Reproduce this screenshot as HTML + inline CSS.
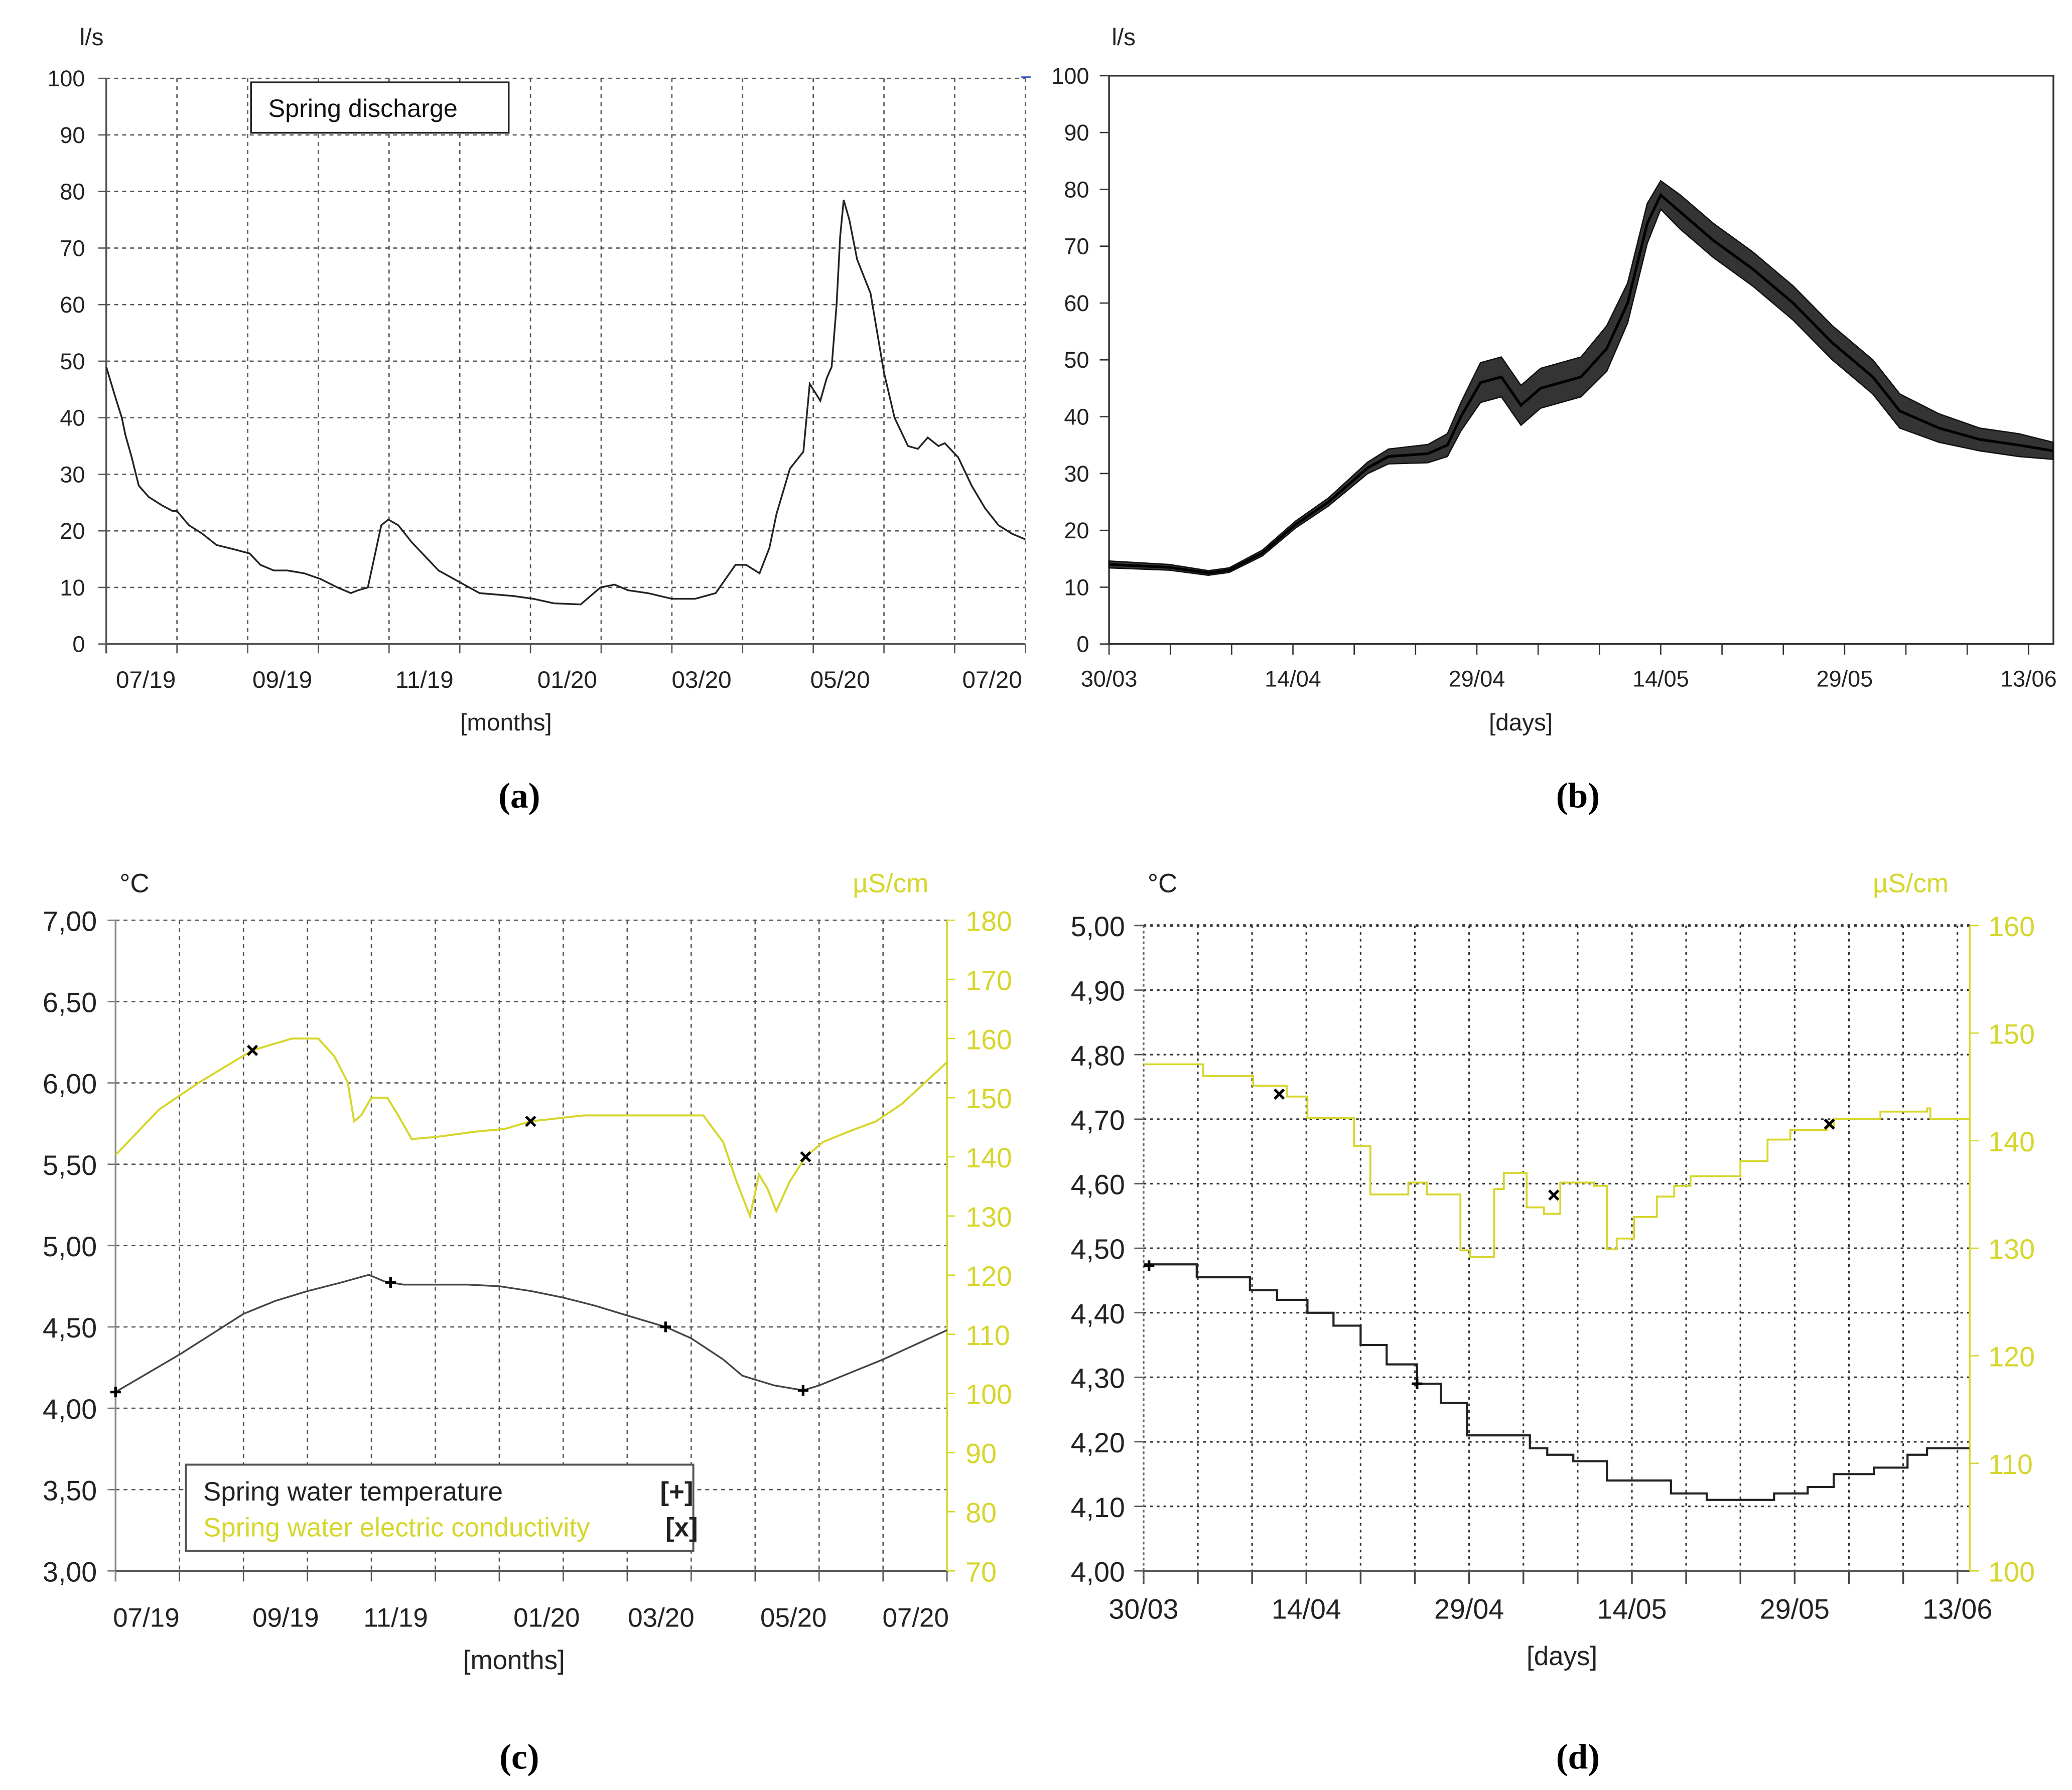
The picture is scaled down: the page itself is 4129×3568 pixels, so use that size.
<!DOCTYPE html>
<html><head><meta charset="utf-8"><style>
html,body{margin:0;padding:0;background:#fff;}
svg{display:block;font-family:"Liberation Sans",sans-serif;}
</style></head>
<body>
<svg id="chart" xmlns="http://www.w3.org/2000/svg" width="4129" height="3568" viewBox="0 0 1560 1348" preserveAspectRatio="none">
<rect x="0" y="0" width="1560" height="1348" fill="#fff"/>
</svg>
<script>
// ---------- Panel (a) data ----------
const aMonths = [0,.12,.22,.27,.36,.46,.6,.79,.94,1.0,1.17,1.36,1.56,1.79,2.03,2.18,2.37,2.56,2.8,3.03,3.27,3.46,3.56,3.7,3.89,3.99,4.13,4.32,4.51,4.7,4.99,5.28,5.75,6.04,6.33,6.71,6.99,7.19,7.38,7.66,8.0,8.33,8.62,8.9,9.05,9.24,9.38,9.48,9.67,9.86,9.95,10.05,10.1,10.19,10.26,10.33,10.38,10.43,10.51,10.62,10.81,11.0,11.15,11.34,11.48,11.62,11.77,11.86,12.05,12.24,12.43,12.62,12.81,13];
const aFlow = [49,44,40,37,33,28,26,24.5,23.5,23.5,21,19.5,17.5,16.8,16,14,13,13,12.5,11.5,10,9,9.5,10,21,22,21,18,15.5,13,11,9,8.5,8,7.2,7,10,10.5,9.5,9,8,8,9,14,14,12.5,17,23,31,34,46,44,43,47,49,60,72,78.5,75,68,62,48,40,35,34.5,36.5,35,35.5,33,28,24,21,19.5,18.5];
const aYTicks = [0,10,20,30,40,50,60,70,80,90,100];
const aXLabels = ['07/19','09/19','11/19','01/20','03/20','05/20','07/20'];
const aXLabelMonths = [0.56,2.49,4.5,6.52,8.42,10.38,12.53];

// ---------- Panel (b) data ----------
const bDays = [0,4.9,8.1,9.8,12.5,15.2,17.9,21.1,22.8,26,27.6,28.7,30.3,32,33.6,35.2,38.5,40.6,42.3,43.9,45,46.6,49.3,52.5,55.8,59,62.3,64.5,67.7,71,74.2,77];
const bFlow = [14,13.5,12.5,13,16,21,25,31,33,33.5,35,40,46,47,42,45,47,52,60,74,79,76,71,66,60,53,47,41,38,36,35,34];
const bSpread = [0.6,0.5,0.4,0.4,0.5,0.6,0.7,1.0,1.3,1.6,2,2.5,3.5,3.5,3.5,3.5,3.5,4,3.5,3.5,2.5,3,3,3,3,3,3,3,2.5,2,2,1.5];
const bYTicks = [0,10,20,30,40,50,60,70,80,90,100];
const bXLabels = ['30/03','14/04','29/04','14/05','29/05','13/06'];

// ---------- Panel (c) data ----------
const cTempMonths = [0,1,2,2.5,3,3.5,3.96,4.2,4.5,5,5.5,6,6.5,7,7.5,8,8.6,9,9.5,9.8,10.3,10.75,11,11.5,12,12.5,13];
const cTemp = [4.1,4.33,4.58,4.66,4.72,4.77,4.82,4.78,4.76,4.76,4.76,4.75,4.72,4.68,4.63,4.57,4.5,4.43,4.3,4.2,4.14,4.11,4.14,4.22,4.3,4.39,4.48];
const cCondMonths = [0,.68,1.31,2.14,2.76,3.17,3.42,3.63,3.73,3.84,4.0,4.25,4.42,4.63,5.04,5.66,6.08,6.49,7.32,8.57,9.19,9.5,9.71,9.92,10.06,10.19,10.33,10.54,10.79,11.06,11.47,11.89,12.3,13];
const cCond = [140.3,148,152.6,158,160,160,157,152.6,146,147,150,150,147,143,143.4,144.3,144.7,146,147,147,147,142.5,135.8,130,137,134.7,130.8,135.8,140,142.5,144.3,146,149,156];
const cTempMarks = [0,4.3,8.6,10.75];
const cCondMarks = [2.14,6.49,10.79];
const cLeftTicks = ['7,00','6,50','6,00','5,50','5,00','4,50','4,00','3,50','3,00'];
const cLeftVals = [7,6.5,6,5.5,5,4.5,4,3.5,3];
const cRightVals = [180,170,160,150,140,130,120,110,100,90,80,70];
const cXLabels = ['07/19','09/19','11/19','01/20','03/20','05/20','07/20'];
const cXLabelMonths = [0.48,2.66,4.38,6.74,8.53,10.6,12.51];

// ---------- Panel (d) data ----------
const dTempDays = [0,4.9,9.8,12.3,15.1,17.5,20,22.4,25.2,27.4,29.8,34.7,35.6,37.2,39.6,42.7,47,48.6,51.9,55.9,58.1,61.2,63.6,67.3,70.4,72.2,76.1];
const dTemp = [4.475,4.455,4.435,4.42,4.40,4.38,4.35,4.32,4.29,4.26,4.21,4.21,4.19,4.18,4.17,4.14,4.14,4.12,4.11,4.11,4.12,4.13,4.15,4.16,4.18,4.19,4.19];
const dCondDays = [0,4.9,5.5,9.8,10.1,13.2,15.1,19.4,20.9,24.3,24.4,25.8,26.1,27.7,29.2,30.1,32.3,33.2,34.7,35.3,36.9,38.4,41.5,42.7,43.6,45.2,47.3,48.9,50.4,55,57.5,59.6,63,63.6,67.9,72.2,72.5,76.1];
const dCond = [147.1,147.1,146,146,145.1,144.1,142.1,139.5,135,135,136.1,136.1,135,135,129.8,129.2,135.5,137,137,133.8,133.2,136.1,135.8,129.9,130.9,132.9,134.8,135.8,136.7,138.1,140.1,141,141.3,142,142.7,143,142,142];
const dTempMarks = [0.5,25.2];
const dCondMarks = [12.5,37.8,63.2];
const dLeftVals = [5,4.9,4.8,4.7,4.6,4.5,4.4,4.3,4.2,4.1,4.0];
const dRightVals = [160,150,140,130,120,110,100];
const dXLabels = ['30/03','14/04','29/04','14/05','29/05','13/06'];

const NS = 'http://www.w3.org/2000/svg';
const svg = document.getElementById('chart');
const YEL = '#d6d62c';
function mk(tag, attrs, parent) {
  const e = document.createElementNS(NS, tag);
  for (const k in attrs) e.setAttribute(k, attrs[k]);
  (parent || svg).appendChild(e);
  return e;
}
function txt(x, y, s, size, anchor, fill, parent, family) {
  const t = mk('text', {x: x, y: y, 'font-size': size, 'text-anchor': anchor || 'start', fill: fill || '#222'}, parent);
  if (family) t.setAttribute('font-family', family);
  t.textContent = s;
  return t;
}
function group(name) {
  const g = mk('g', {});
  
  
  return g;
}
function pathFrom(xs, ys, fx, fy, step) {
  let d = '';
  for (let i = 0; i < xs.length; i++) {
    const X = fx(xs[i]), Y = fy(ys[i]);
    if (i === 0) d += 'M' + X.toFixed(2) + ' ' + Y.toFixed(2);
    else if (step) d += 'H' + X.toFixed(2) + 'V' + Y.toFixed(2);
    else d += 'L' + X.toFixed(2) + ' ' + Y.toFixed(2);
  }
  return d;
}
function interp(xs, ys, x) {
  for (let i = 0; i < xs.length - 1; i++) if (x >= xs[i] && x <= xs[i + 1]) {
    const t = (x - xs[i]) / (xs[i + 1] - xs[i]); return ys[i] + t * (ys[i + 1] - ys[i]);
  }
  return ys[ys.length - 1];
}
function plus(x, y, g) {
  const p = mk('path', {d: `M${x-4} ${y}H${x+4}M${x} ${y-4}V${y+4}`, stroke: '#000', 'stroke-width': 2}, g);
  
  
}
function cross(x, y, g) {
  const p = mk('path', {d: `M${x-3.5} ${y-3.5}L${x+3.5} ${y+3.5}M${x+3.5} ${y-3.5}L${x-3.5} ${y+3.5}`, stroke: '#000', 'stroke-width': 2}, g);
  
  
}

// ================= Panel (a) =================
(function () {
  const g = group('panel-a');
  const L = 80, R = 772, T = 59, B = 485;
  const xA = m => L + m * (R - L) / 13;
  const yA = v => B - v * (B - T) / 100;
  aYTicks.forEach(v => {
    if (v > 0) {
      const l = mk('line', {x1: L, x2: R, y1: yA(v), y2: yA(v), stroke: '#555', 'stroke-width': 1, 'stroke-dasharray': '3 3'}, g);
      
      
    }
    mk('line', {x1: L - 6, x2: L, y1: yA(v), y2: yA(v), stroke: '#555'}, g);
    const t = txt(64, yA(v) + 6, String(v), 17, 'end', '#222', g);
    
    
  });
  for (let m = 1; m <= 13; m++) {
    const l = mk('line', {x1: xA(m), x2: xA(m), y1: T, y2: B, stroke: '#555', 'stroke-width': 1, 'stroke-dasharray': '3 3'}, g);
    
    
  }
  for (let m = 0; m <= 13; m++) mk('line', {x1: xA(m), x2: xA(m), y1: B, y2: B + 7, stroke: '#555'}, g);
  mk('line', {x1: L, x2: L, y1: T, y2: B + 7, stroke: '#555', 'stroke-width': 1.3}, g);
  mk('line', {x1: L, x2: R, y1: B, y2: B, stroke: '#555', 'stroke-width': 1.3}, g);
  mk('line', {x1: R - 3, x2: R + 4, y1: T - 1, y2: T - 1, stroke: '#2244cc', 'stroke-width': 1}, g);
  aXLabels.forEach((s, i) => {
    const t = txt(xA(aXLabelMonths[i]), 518, s, 18, 'middle', '#222', g);
    
    
  });
  const line = mk('path', {d: pathFrom(aMonths, aFlow, xA, yA), fill: 'none', stroke: '#222', 'stroke-width': 1.3}, g);
  
  
  const lu = txt(60, 34, 'l/s', 18, 'start', '#222', g);
  
  
  const xt = txt(381, 550, '[months]', 18, 'middle', '#222', g);
  
  
  const lb = mk('rect', {x: 189, y: 62, width: 194, height: 38, fill: '#fff', stroke: '#222', 'stroke-width': 1.3}, g);
  
  
  const lt = txt(202, 88, 'Spring discharge', 19, 'start', '#111', g);
  
  
  const pl = txt(391, 608, '(a)', 27, 'middle', '#000', g, '"Liberation Serif",serif');
  
  
  pl.setAttribute('font-weight', 'bold');
})();

// ================= Panel (b) =================
(function () {
  const g = group('panel-b');
  const L = 835, R = 1546, T = 57, B = 485;
  const xB = d => L + d * 9.23;
  const yB = v => B - v * (B - T) / 100;
  const fr = mk('rect', {x: L, y: T, width: R - L, height: B - T, fill: 'none', stroke: '#333', 'stroke-width': 1.3}, g);
  
  
  bYTicks.forEach(v => {
    mk('line', {x1: L - 7, x2: L, y1: yB(v), y2: yB(v), stroke: '#333'}, g);
    const t = txt(820, yB(v) + 6, String(v), 17, 'end', '#222', g);
    
    
  });
  for (let d = 0; d <= 77; d += 5) mk('line', {x1: xB(d), x2: xB(d), y1: B, y2: B + 8, stroke: '#333'}, g);
  bXLabels.forEach((s, i) => {
    const t = txt(xB(i * 15), 517, s, 17, 'middle', '#222', g);
    
    
  });
  const up = bFlow.map((v, i) => v + bSpread[i]);
  const lo = bFlow.map((v, i) => v - bSpread[i]);
  let d = pathFrom(bDays, up, xB, yB);
  for (let i = bDays.length - 1; i >= 0; i--) d += 'L' + xB(bDays[i]).toFixed(2) + ' ' + yB(lo[i]).toFixed(2);
  d += 'Z';
  const band = mk('path', {d: d, fill: '#111', 'fill-opacity': 0.85, stroke: '#111', 'stroke-width': 1}, g);
  
  
  const line = mk('path', {d: pathFrom(bDays, bFlow, xB, yB), fill: 'none', stroke: '#000', 'stroke-width': 2}, g);
  
  
  const lu = txt(837, 34, 'l/s', 18, 'start', '#222', g);
  
  
  const xt = txt(1145, 550, '[days]', 18, 'middle', '#222', g);
  
  
  const pl = txt(1188, 608, '(b)', 27, 'middle', '#000', g, '"Liberation Serif",serif');
  
  
  pl.setAttribute('font-weight', 'bold');
})();

// ================= Panel (c) =================
(function () {
  const g = group('panel-c');
  const L = 87, R = 713, T = 693, B = 1183;
  const xC = m => L + m * (R - L) / 13;
  const yT = t => T + (7 - t) * (B - T) / 4;
  const yE = e => T + (180 - e) * (B - T) / 110;
  cLeftVals.forEach((v, i) => {
    if (i > 0 && i < cLeftVals.length - 1) {
      const l = mk('line', {x1: L, x2: R, y1: yT(v), y2: yT(v), stroke: '#555', 'stroke-dasharray': '3 3'}, g);
      
      
    }
    mk('line', {x1: L - 6, x2: L, y1: yT(v), y2: yT(v), stroke: '#777'}, g);
    const t = txt(73, yT(v) + 8, cLeftTicks[i], 21, 'end', '#222', g);
    
    
  });
  mk('line', {x1: L, x2: R, y1: T, y2: T, stroke: '#555', 'stroke-dasharray': '3 3'}, g);
  cRightVals.forEach(v => {
    mk('line', {x1: R, x2: R + 6, y1: yE(v), y2: yE(v), stroke: YEL}, g);
    const t = txt(727, yE(v) + 8, String(v), 21, 'start', YEL, g);
    
    
  });
  for (let m = 1; m < 13; m++) {
    const l = mk('line', {x1: xC(m), x2: xC(m), y1: T, y2: B, stroke: '#555', 'stroke-dasharray': '3 3'}, g);
    
    
  }
  for (let m = 0; m <= 13; m++) mk('line', {x1: xC(m), x2: xC(m), y1: B, y2: B + 8, stroke: '#555'}, g);
  mk('line', {x1: L, x2: L, y1: T, y2: B + 8, stroke: '#888', 'stroke-width': 1.3}, g);
  mk('line', {x1: L, x2: R, y1: B, y2: B, stroke: '#555', 'stroke-width': 1.3}, g);
  mk('line', {x1: R, x2: R, y1: T, y2: B, stroke: YEL, 'stroke-width': 1.3}, g);
  cXLabels.forEach((s, i) => {
    const t = txt(xC(cXLabelMonths[i]), 1225, s, 20, 'middle', '#222', g);
    
    
  });
  const ce = mk('path', {d: pathFrom(cCondMonths, cCond, xC, yE), fill: 'none', stroke: YEL, 'stroke-width': 1.5}, g);
  
  
  const ct = mk('path', {d: pathFrom(cTempMonths, cTemp, xC, yT), fill: 'none', stroke: '#444', 'stroke-width': 1.3}, g);
  
  
  cTempMarks.forEach(m => plus(xC(m), yT(interp(cTempMonths, cTemp, m)), g));
  cCondMarks.forEach(m => cross(xC(m), yE(interp(cCondMonths, cCond, m)), g));
  const u1 = txt(90, 672, '°C', 20, 'start', '#222', g);
  
  
  const u2 = txt(642, 672, 'µS/cm', 20, 'start', YEL, g);
  
  
  const xt = txt(387, 1257, '[months]', 20, 'middle', '#222', g);
  
  
  const lb = mk('rect', {x: 140, y: 1103, width: 382, height: 65, fill: '#fff', stroke: '#555', 'stroke-width': 1.5}, g);
  
  
  const l1 = txt(153, 1130, 'Spring water temperature', 20, 'start', '#222', g);
  
  
  const l1b = txt(497, 1130, '[+]', 20, 'start', '#222', g);
  
  
  l1b.setAttribute('font-weight', 'bold');
  const l2 = txt(153, 1157, 'Spring water electric conductivity', 20, 'start', YEL, g);
  
  
  const l2b = txt(501, 1157, '[x]', 20, 'start', '#222', g);
  
  
  l2b.setAttribute('font-weight', 'bold');
  const pl = txt(391, 1332, '(c)', 27, 'middle', '#000', g, '"Liberation Serif",serif');
  
  
  pl.setAttribute('font-weight', 'bold');
})();

// ================= Panel (d) =================
(function () {
  const g = group('panel-d');
  const L = 861, R = 1483, T = 697, B = 1183;
  const xD = d => L + d * 8.17;
  const yT = t => T + (5 - t) * (B - T);
  const yE = e => T + (160 - e) * (B - T) / 60;
  dLeftVals.forEach((v, i) => {
    if (i < dLeftVals.length - 1) {
      const l = mk('line', {x1: L, x2: R, y1: yT(v), y2: yT(v), stroke: '#333', 'stroke-width': i === 0 ? 2 : 1.2, 'stroke-dasharray': '2 3'}, g);
      
      
    }
    mk('line', {x1: L - 7, x2: L, y1: yT(v), y2: yT(v), stroke: '#555'}, g);
    const t = txt(847, yT(v) + 8, v.toFixed(2).replace('.', ','), 21, 'end', '#222', g);
    
    
  });
  dRightVals.forEach(v => {
    mk('line', {x1: R, x2: R + 7, y1: yE(v), y2: yE(v), stroke: YEL}, g);
    const t = txt(1497, yE(v) + 8, String(v), 21, 'start', YEL, g);
    
    
  });
  for (let d = 5; d <= 75; d += 5) {
    const l = mk('line', {x1: xD(d), x2: xD(d), y1: T, y2: B, stroke: '#333', 'stroke-width': 1.2, 'stroke-dasharray': '2 3'}, g);
    
    
  }
  for (let d = 0; d <= 75; d += 5) mk('line', {x1: xD(d), x2: xD(d), y1: B, y2: B + 10, stroke: '#444', 'stroke-width': 1.3}, g);
  mk('line', {x1: L, x2: L, y1: T, y2: B + 10, stroke: '#666', 'stroke-width': 1.3, 'stroke-dasharray': '2 2'}, g);
  mk('line', {x1: L, x2: R, y1: B, y2: B, stroke: '#555', 'stroke-width': 1.5}, g);
  mk('line', {x1: R, x2: R, y1: T, y2: B, stroke: YEL, 'stroke-width': 1.3}, g);
  dXLabels.forEach((s, i) => {
    const t = txt(xD(i * 15), 1219, s, 21, 'middle', '#222', g);
    
    
  });
  const de = mk('path', {d: pathFrom(dCondDays, dCond, xD, yE, true), fill: 'none', stroke: YEL, 'stroke-width': 1.4}, g);
  
  
  const dt = mk('path', {d: pathFrom(dTempDays, dTemp, xD, yT, true), fill: 'none', stroke: '#222', 'stroke-width': 1.6}, g);
  
  
  dTempMarks.forEach(d => plus(xD(d), yT(interp(dTempDays, dTemp, d)), g));
  dCondMarks.forEach(d => cross(xD(d), yE(interp(dCondDays, dCond, d)), g));
  const u1 = txt(864, 672, '°C', 20, 'start', '#222', g);
  
  
  const u2 = txt(1410, 672, 'µS/cm', 20, 'start', YEL, g);
  
  
  const xt = txt(1176, 1254, '[days]', 20, 'middle', '#222', g);
  
  
  const pl = txt(1188, 1332, '(d)', 27, 'middle', '#000', g, '"Liberation Serif",serif');
  
  
  pl.setAttribute('font-weight', 'bold');
})();
</script>
</body></html>
